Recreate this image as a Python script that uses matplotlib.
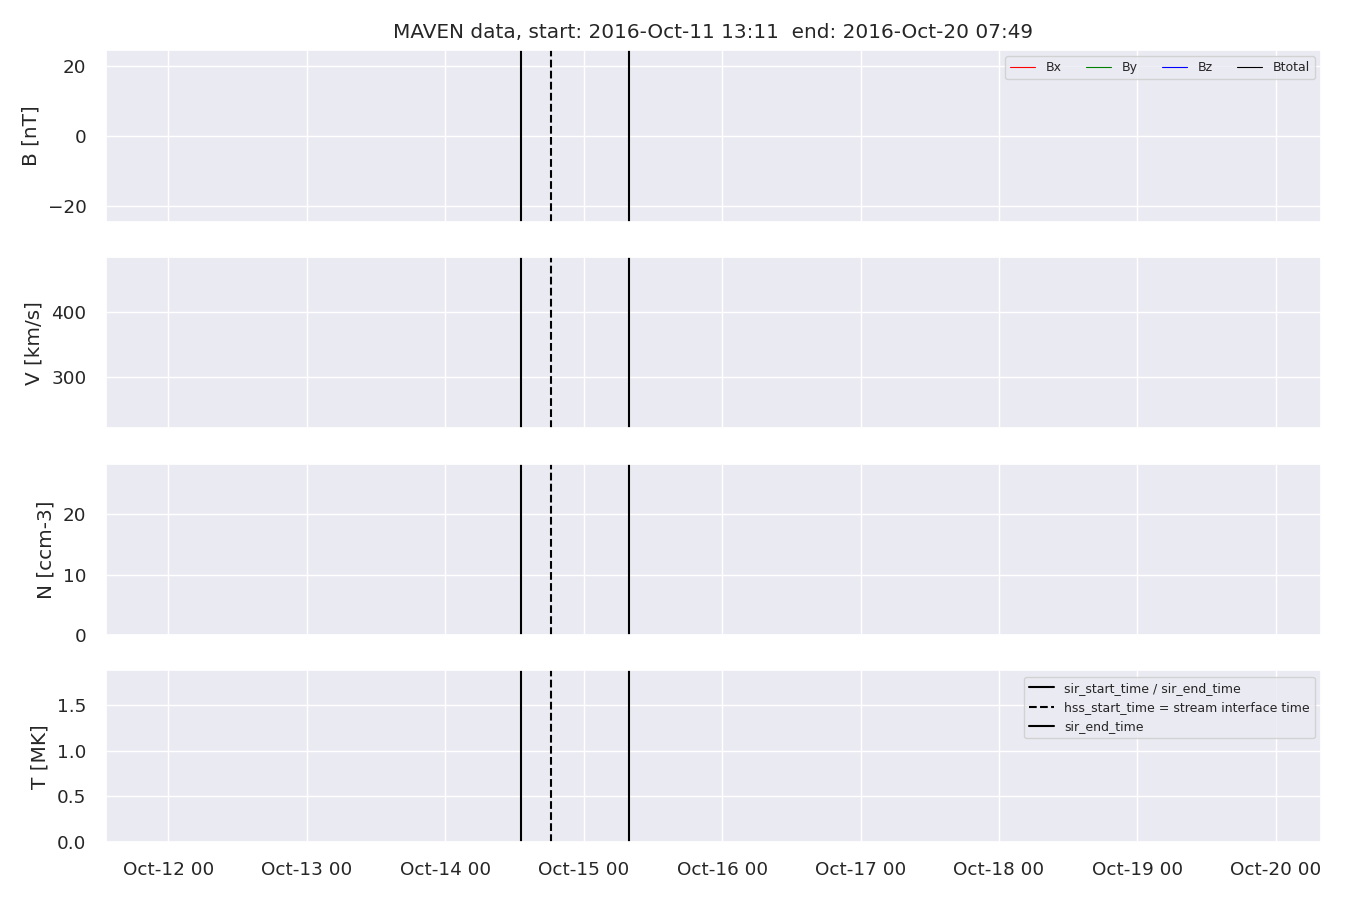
import matplotlib
matplotlib.use("Agg")
import matplotlib.pyplot as plt
import matplotlib.dates as mdates
import matplotlib.ticker as mticker
import seaborn as sns
import numpy as np
from datetime import datetime

sns.set_theme(style="darkgrid", font_scale=1.2)

# Time window
start_time = datetime(2016, 10, 11, 13, 11)
end_time = datetime(2016, 10, 20, 7, 49)

# Event times
sir_start_time = datetime(2016, 10, 14, 13, 8)
hss_start_time = datetime(2016, 10, 14, 18, 18)
sir_end_time = datetime(2016, 10, 15, 7, 47)

# Data series (no data present in window)
time = []
bx = []
by = []
bz = []
btot = []
vt = []
np_dens = []
tp = []

# Axis limits
b_lim = (-24.4, 24.4)
v_lim = (221, 485)
n_lim = (0, 28.3)
t_lim = (0, 1.88)

xpad = plt.rcParams['xtick.major.pad'] + 4.0
ypad = plt.rcParams['ytick.major.pad'] + 4.5
lpad = plt.rcParams['axes.labelpad'] + 1.5

fig, axes = plt.subplots(4, 1, figsize=(13.5, 9), dpi=100, sharex=True)
fig.subplots_adjust(left=0.0785, right=0.9785, top=0.9444, bottom=0.0644, hspace=0.205)

ax0, ax1, ax2, ax3 = axes

ax0.plot(time, bx, color='#ff0000', lw=0.8, label='Bx')
ax0.plot(time, by, color='#008000', lw=0.8, label='By')
ax0.plot(time, bz, color='#0000ff', lw=0.8, label='Bz')
ax0.plot(time, btot, color='#000000', lw=0.8, label='Btotal')
ax0.set_ylabel('B [nT]', labelpad=lpad)
ax0.set_ylim(*b_lim)
ax0.yaxis.set_major_locator(mticker.MultipleLocator(20))
ax0.set_title('MAVEN data, start: 2016-Oct-11 13:11  end: 2016-Oct-20 07:49', pad=8.5)

ax1.plot(time, vt, color='black', lw=0.8)
ax1.set_ylabel('V [km/s]', labelpad=lpad)
ax1.set_ylim(*v_lim)
ax1.yaxis.set_major_locator(mticker.MultipleLocator(100))

ax2.plot(time, np_dens, color='black', lw=0.8)
ax2.set_ylabel('N [ccm-3]', labelpad=lpad)
ax2.set_ylim(*n_lim)
ax2.yaxis.set_major_locator(mticker.MultipleLocator(10))

ax3.plot(time, tp, color='black', lw=0.8)
ax3.set_ylabel('T [MK]', labelpad=lpad)
ax3.set_ylim(*t_lim)
ax3.yaxis.set_major_locator(mticker.MultipleLocator(0.5))

for i, ax in enumerate(axes):
    ax.axvline(sir_start_time, color='black', ls='-', lw=1.5,
               label='sir_start_time / sir_end_time')
    ax.axvline(hss_start_time, color='black', ls='--', lw=1.5,
               label='hss_start_time = stream interface time')
    ax.axvline(sir_end_time, color='black', ls='-', lw=1.5, label='sir_end_time')
    ax.set_xlim(start_time, end_time)
    ax.tick_params(axis='y', pad=ypad)
    ax.tick_params(axis='x', pad=xpad)

h, l = ax0.get_legend_handles_labels()
ax0.legend(h[:4], l[:4], loc='upper right', ncol=4, fontsize=9)
ax3.legend(loc='upper right', fontsize=9)

ax3.xaxis.set_major_locator(mdates.DayLocator())
ax3.xaxis.set_major_formatter(mdates.DateFormatter('%b-%d %H'))

fig.savefig('out.png', dpi=100)
